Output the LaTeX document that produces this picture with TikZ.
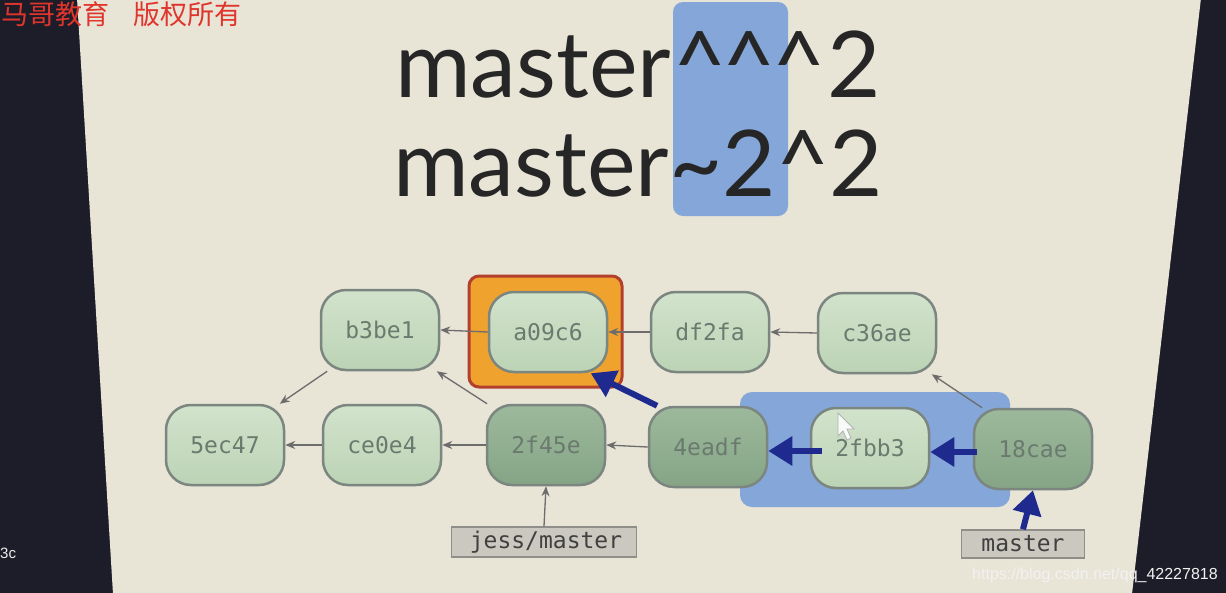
\documentclass[tikz,border=0pt]{standalone}
\usepackage{fontspec}
\usetikzlibrary{arrows.meta,calc}
\newfontfamily\titlefont{Lato}
\newfontfamily\monofont{DejaVu Sans Mono}
\newfontfamily\cjk{Noto Sans CJK SC}
\newfontfamily\wmfont{Liberation Sans}
\definecolor{darkbg}{HTML}{1D1D29}
\definecolor{slide}{HTML}{E8E4D6}
\definecolor{hlblue}{HTML}{84A6D8}
\definecolor{lighttop}{HTML}{D2E3CC}
\definecolor{lightbot}{HTML}{BCD3B5}
\definecolor{darktop}{HTML}{9DB99C}
\definecolor{darkbot}{HTML}{85A486}
\definecolor{nodeborder}{HTML}{7C8680}
\definecolor{nodetext}{HTML}{6B7A6E}
\definecolor{orangefill}{HTML}{F0A22E}
\definecolor{orangeborder}{HTML}{B3402C}
\definecolor{navy}{HTML}{1E2A8E}
\definecolor{thinarrow}{HTML}{6C6C6C}
\definecolor{labelfill}{HTML}{CBC8BF}
\definecolor{labelborder}{HTML}{8F8E88}
\definecolor{wmred}{HTML}{E0352C}
\tikzset{
  commit/.style={draw=nodeborder, line width=2.5pt, rounded corners=25pt,
    minimum width=118pt, minimum height=80pt, inner sep=0pt,
    font=\monofont\fontsize{23}{24}\selectfont, text=nodetext},
  lightcommit/.style={commit, top color=lighttop, bottom color=lightbot},
  darkcommit/.style={commit, top color=darktop, bottom color=darkbot},
  reflabel/.style={draw=labelborder, line width=1.5pt, fill=labelfill,
    inner sep=0pt, minimum height=30pt, text=black!75,
    font=\monofont\fontsize{23}{24}\selectfont},
  thinlink/.style={draw=thinarrow, line width=1.3pt,
    -{Stealth[length=10pt,width=8pt]}},
  thicklink/.style={draw=navy, line width=6pt,
    -{Triangle[length=24pt,width=28pt]}},
  titletext/.style={inner sep=0pt, text=black!85,
    font=\titlefont\fontsize{92}{100}\selectfont},
}
\newcommand{\crt}{\textasciicircum}
\begin{document}
\begin{tikzpicture}[x=1pt,y=-1pt]
\useasboundingbox (0,0) rectangle (1226,592);
% background and slide
\fill[darkbg] (-2,-2) rectangle (1228,594);
\fill[slide] (77,-2) -- (1201,-2) -- (1132,594) -- (113,594) -- cycle;
% watermark top-left
\node[anchor=base west, inner sep=0pt, text=wmred,
  font=\cjk\fontsize{27}{28}\selectfont] (wm) at (1,24)
  {马哥教育\hspace{24pt}版权所有};
% title highlight
\fill[hlblue, rounded corners=10pt] (673,2) rectangle (788,216);
\node[titletext, anchor=base west] (t1) at (395,97)
  {master\hspace{2pt}\crt\hspace{-4pt}\crt\hspace{-4pt}\crt\hspace{2pt}2};
\node[titletext, anchor=base west] (t2) at (393,196)
  {master\textasciitilde 2\crt 2};
% highlights behind graph
\draw[orangeborder, fill=orangefill, line width=3pt, rounded corners=10pt]
  (469,276) rectangle (622,387);
\fill[hlblue, rounded corners=12pt] (740,392) rectangle (1010,507);
% commits
\node[lightcommit] (b3be1) at (380,330) {b3be1};
\node[lightcommit] (a09c6) at (548,332) {a09c6};
\node[lightcommit] (df2fa) at (710,332) {df2fa};
\node[lightcommit] (c36ae) at (877,333) {c36ae};
\node[lightcommit] (5ec47) at (225,445) {5ec47};
\node[lightcommit] (ce0e4) at (382,445) {ce0e4};
\node[darkcommit] (2f45e) at (546,445) {2f45e};
\node[darkcommit] (4eadf) at (708,447) {4eadf};
\node[lightcommit] (2fbb3) at (870,448) {2fbb3};
\node[darkcommit] (18cae) at (1033,449) {18cae};
% ref labels
\node[reflabel, minimum width=185pt] (jess) at (544,542) {\hspace{4pt}jess/master\hfill};
\node[reflabel, minimum width=123pt, minimum height=28pt] (mlabel) at (1023,544)
  {master\hspace{30pt}};
% thin parent links
\draw[thinlink] (a09c6.west) -- (b3be1.east);
\draw[thinlink] (df2fa.west) -- (a09c6.east);
\draw[thinlink] (c36ae.west) -- (df2fa.east);
\draw[thinlink] (ce0e4.west) -- (5ec47.east);
\draw[thinlink] (2f45e.west) -- (ce0e4.east);
\draw[thinlink] (4eadf.west) -- (2f45e.east);
\draw[thinlink] (b3be1.218) -- (5ec47.37);
\draw[thinlink] (2f45e.145) -- (b3be1.-36);
\draw[thinlink] (18cae.141) -- (c36ae.-37);
\draw[thinlink] (jess.north) -- (2f45e.south);
% thick navy links
\draw[thicklink] (4eadf.141) -- (a09c6.-44);
\draw[thicklink] ($(2fbb3.west)+(12,3)$) -- ($(4eadf.east)+(0,4)$);
\draw[thicklink] ($(18cae.west)+(4,3)$) -- ($(2fbb3.east)+(0,4)$);
\draw[thicklink] (mlabel.north) -- (18cae.south);
% mouse cursor
\draw[gray!60, fill=white, fill opacity=0.85, line width=0.8pt]
  (838,413) -- (838,436) -- (843,431) -- (847,440) -- (851,438) -- (847,429) -- (854,429) -- cycle;
% bottom watermark
\node[anchor=base west, inner sep=0pt, text=white!90!gray,
  font=\wmfont\fontsize{16}{17}\selectfont] (wm2) at (972,579)
  {https://blog.csdn.net/qq\_42227818};
\node[anchor=base west, inner sep=0pt, text=white!85!gray,
  font=\wmfont\fontsize{15}{16}\selectfont] (frag) at (0,558) {3c};
\end{tikzpicture}
\end{document}
